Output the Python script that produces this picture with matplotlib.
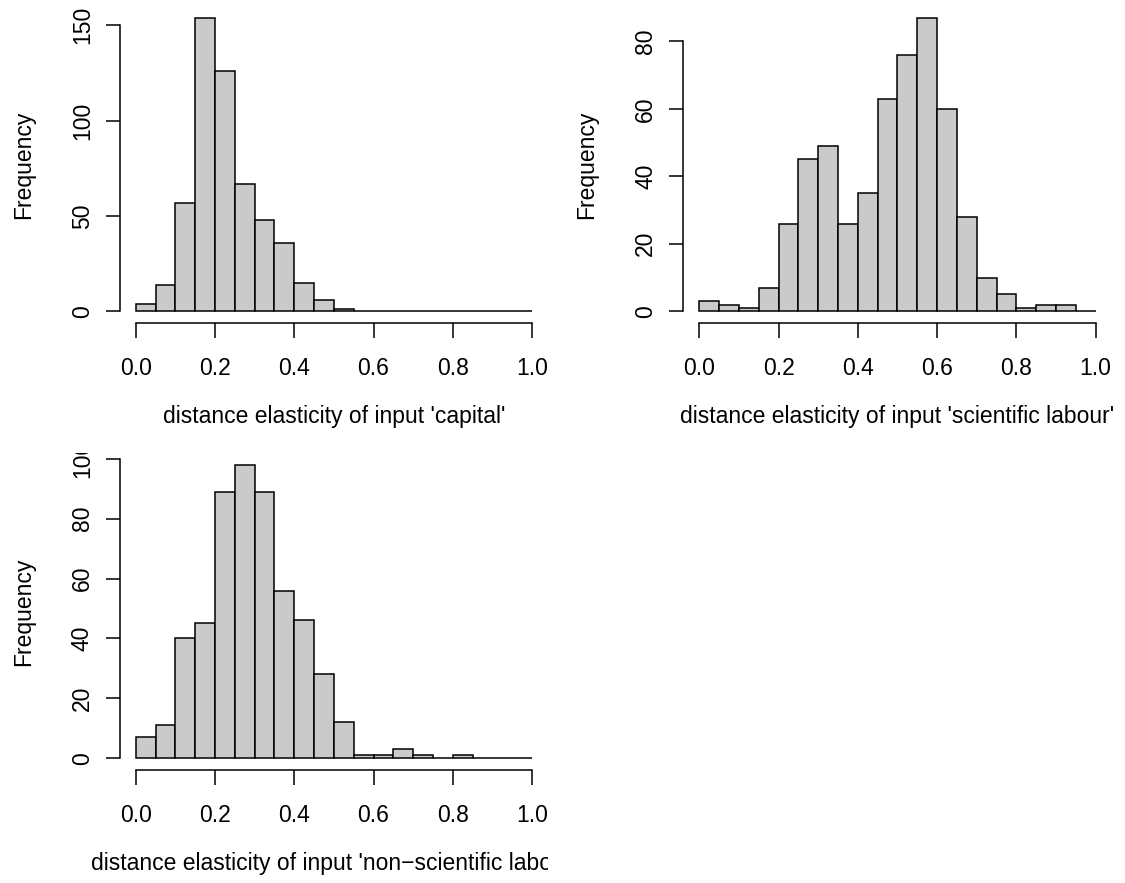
import matplotlib
matplotlib.use("Agg")
import matplotlib.pyplot as plt
import numpy as np
from matplotlib.transforms import Bbox, TransformedBbox

plt.rcParams["font.family"] = ["Liberation Sans", "DejaVu Sans"]

# ---- data (histogram counts, bins of width 0.05 from 0 to 1) ----
BIN_EDGES = np.linspace(0.0, 1.0, 21)
CAPITAL_COUNTS = [4, 14, 57, 154, 126, 67, 48, 36, 15, 6, 1, 0, 0, 0, 0, 0, 0, 0, 0, 0]
SCI_LABOUR_COUNTS = [3, 2, 1, 7, 26, 45, 49, 26, 35, 63, 76, 87, 60, 28, 10, 5, 1, 2, 2, 0]
NONSCI_LABOUR_COUNTS = [7, 11, 40, 45, 89, 98, 89, 56, 46, 28, 12, 1, 1, 3, 1, 0, 1, 0, 0, 0]

XTICKS = [0.0, 0.2, 0.4, 0.6, 0.8, 1.0]
YTICKS_CAPITAL = [0, 50, 100, 150]
YTICKS_SCI = [0, 20, 40, 60, 80]
YTICKS_NONSCI = [0, 20, 40, 60, 80, 100]

XLABELS = [
    "distance elasticity of input 'capital'",
    "distance elasticity of input 'scientific labour'",
    "distance elasticity of input 'non\u2212scientific labour'",
]

FILL = "#CACACA"
LW = 1.1
TICK_FS = 16.5
LABEL_FS = 16.5

W, H = 1125, 883
fig = plt.figure(figsize=(W / 100, H / 100), dpi=100)
fig.patch.set_facecolor("white")


def px_axes(left, top, right, bottom):
    return fig.add_axes([left / W, 1 - bottom / H, (right - left) / W, (bottom - top) / H])


def draw_hist(ax, counts, yticks, xlabel):
    widths = np.diff(BIN_EDGES)
    ax.bar(BIN_EDGES[:-1], counts, width=widths, align="edge",
           color=FILL, edgecolor="black", linewidth=LW)
    ymax = max(counts)
    ax.set_xlim(-0.04, 1.04)
    ax.set_ylim(-0.04 * ymax, 1.04 * ymax)
    for s in ("top", "right"):
        ax.spines[s].set_visible(False)
    ax.spines["bottom"].set_bounds(XTICKS[0], XTICKS[-1])
    ax.spines["left"].set_bounds(yticks[0], yticks[-1])
    ax.spines["bottom"].set_linewidth(LW)
    ax.spines["left"].set_linewidth(LW)
    ax.set_xticks(XTICKS)
    ax.set_xticklabels([f"{t:.1f}" for t in XTICKS])
    ax.set_yticks(yticks)
    ax.set_yticklabels([str(t) for t in yticks])
    ax.tick_params(axis="x", length=10.6, width=LW, pad=14.0, labelsize=TICK_FS)
    ax.tick_params(axis="y", length=10.1, width=LW, pad=8.7, labelsize=TICK_FS,
                   labelrotation=90)
    for lab in ax.get_yticklabels():
        lab.set_va("center")
    xl = ax.text(0.5, -0.296, xlabel, transform=ax.transAxes, ha="center",
                 va="center", fontsize=LABEL_FS)
    ax.text(-0.225, 0.5, "Frequency", transform=ax.transAxes, ha="center",
            va="center", rotation=90, fontsize=LABEL_FS)
    return xl


ax1 = px_axes(119.9, 5.9, 547.9, 323.0)
ax2 = px_axes(683.4, 5.9, 1111.5, 323.0)
ax3 = px_axes(119.9, 453.0, 547.9, 770.0)

draw_hist(ax1, CAPITAL_COUNTS, YTICKS_CAPITAL, XLABELS[0])
draw_hist(ax2, SCI_LABOUR_COUNTS, YTICKS_SCI, XLABELS[1])
xl3 = draw_hist(ax3, NONSCI_LABOUR_COUNTS, YTICKS_NONSCI, XLABELS[2])

# the lower panel clips its text at the plot region's top and right edge
pos = ax3.get_position()
clip = TransformedBbox(Bbox([[0, 0], [pos.x1, pos.y1]]), fig.transFigure)
for t in [xl3] + ax3.get_yticklabels():
    t.set_clip_on(True)
    t.set_clip_box(clip)

fig.savefig("out.png", dpi=100, facecolor="white")
